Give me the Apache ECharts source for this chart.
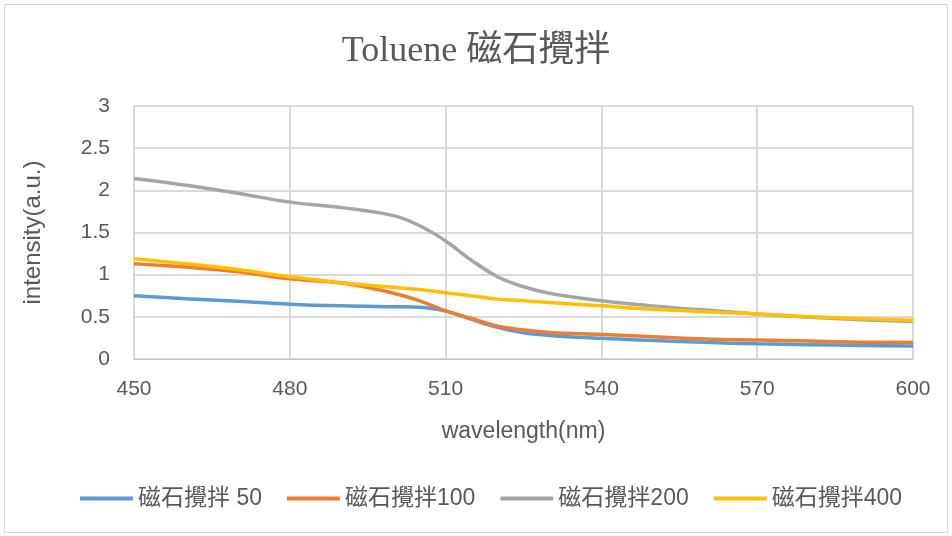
<!DOCTYPE html>
<html>
<head>
<meta charset="utf-8">
<script src="https://cdn.jsdelivr.net/npm/echarts@6/dist/echarts.min.js"></script>
<style>
  html, body { margin: 0; padding: 0; background: #ffffff; }
  #chart { width: 952px; height: 536px; }
</style>
</head>
<body>
<div id="chart"></div>
<script>
// Wavelength samples (nm)
var wavelengths = [450, 460, 470, 480, 490, 500, 505, 510, 515, 520, 525, 530, 540, 550, 560, 570, 580, 590, 600];

// Emission intensity (a.u.) for each stirring condition
var stir50  = [0.75, 0.715, 0.685, 0.65, 0.63, 0.62, 0.615, 0.57, 0.47, 0.375, 0.31, 0.28, 0.245, 0.22, 0.198, 0.18, 0.17, 0.16, 0.155];
var stir100 = [1.13, 1.09, 1.035, 0.95, 0.90, 0.78, 0.69, 0.57, 0.48, 0.39, 0.345, 0.315, 0.29, 0.265, 0.237, 0.225, 0.213, 0.20, 0.195];
var stir200 = [2.14, 2.06, 1.965, 1.86, 1.795, 1.70, 1.58, 1.40, 1.17, 0.976, 0.857, 0.78, 0.69, 0.63, 0.58, 0.535, 0.495, 0.465, 0.445];
var stir400 = [1.19, 1.13, 1.06, 0.975, 0.905, 0.85, 0.825, 0.785, 0.75, 0.71, 0.69, 0.67, 0.63, 0.59, 0.56, 0.535, 0.50, 0.478, 0.46];

var seriesNames = ['磁石攪拌 50', '磁石攪拌100', '磁石攪拌200', '磁石攪拌400'];
var seriesValues = [stir50, stir100, stir200, stir400];
var seriesColors = ['#5B9BD5', '#ED7D31', '#A5A5A5', '#FFC000'];

var textColor = '#595959';
var labelFont = '"Liberation Sans", "Noto Sans CJK TC", sans-serif';

function pairs(values) {
  return wavelengths.map(function (w, i) { return [w, values[i]]; });
}

var chart = echarts.init(document.getElementById('chart'));

chart.setOption({
  backgroundColor: '#ffffff',
  animation: false,
  title: {
    text: 'Toluene 磁石攪拌',
    left: 'center',
    top: 29,
    textStyle: {
      fontFamily: '"Liberation Serif", "Noto Sans CJK TC", serif',
      fontSize: 36,
      fontWeight: 'normal',
      color: textColor
    }
  },
  graphic: [{
    type: 'rect',
    shape: { x: 4.5, y: 4.5, width: 943, height: 528 },
    style: { fill: 'none', stroke: '#d9d9d9', lineWidth: 1 },
    silent: true,
    z: -1
  }],
  legend: {
    top: 482,
    left: 75,
    icon: 'rect',
    itemWidth: 53,
    itemHeight: 4,
    itemGap: 25,
    textStyle: { fontFamily: labelFont, fontSize: 23, color: textColor },
    data: seriesNames
  },
  grid: { left: 134, right: 39, top: 106, bottom: 177 },
  xAxis: {
    type: 'value',
    min: 450,
    max: 600,
    interval: 30,
    name: 'wavelength(nm)',
    nameLocation: 'middle',
    nameGap: 61,
    nameTextStyle: { fontFamily: labelFont, fontSize: 23, color: textColor },
    axisLine: { show: true, lineStyle: { color: '#bfbfbf', width: 1 } },
    axisTick: { show: false },
    axisLabel: { fontFamily: labelFont, fontSize: 21, color: textColor, margin: 20 },
    splitLine: { show: true, lineStyle: { color: '#d9d9d9', width: 2 } }
  },
  yAxis: {
    type: 'value',
    min: 0,
    max: 3,
    interval: 0.5,
    name: 'intensity(a.u.)',
    nameLocation: 'middle',
    nameGap: 89,
    nameTextStyle: { fontFamily: labelFont, fontSize: 24, color: textColor },
    axisLine: { show: false },
    axisTick: { show: false },
    axisLabel: { fontFamily: labelFont, fontSize: 21, color: textColor, margin: 24 },
    splitLine: { show: true, lineStyle: { color: '#d9d9d9', width: 2 } }
  },
  series: seriesNames.map(function (name, i) {
    return {
      name: name,
      type: 'line',
      data: pairs(seriesValues[i]),
      smooth: 0.4,
      showSymbol: false,
      symbol: 'none',
      lineStyle: { width: 3.5, color: seriesColors[i] },
      itemStyle: { color: seriesColors[i] }
    };
  })
});
</script>
</body>
</html>
